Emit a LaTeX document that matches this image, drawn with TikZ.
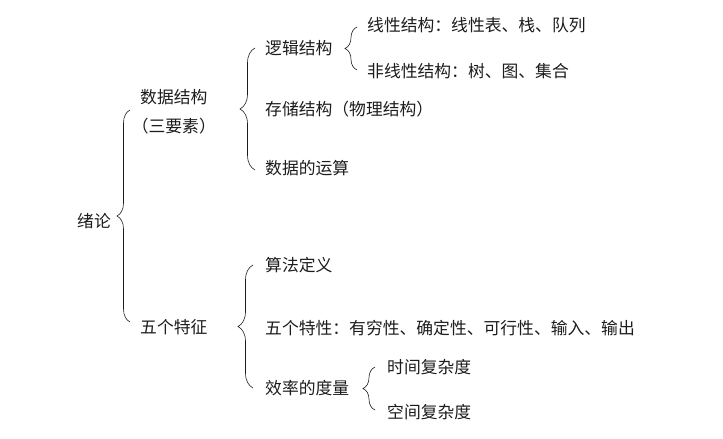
\documentclass[tikz,border=0pt]{standalone}
\usepackage{fontspec}
\newfontfamily\cjk{Noto Sans CJK SC}
\usetikzlibrary{decorations.pathreplacing}
\definecolor{InkGray}{HTML}{1C1C1C}

\tikzset{
  item/.style={anchor=west, inner sep=0pt, text=InkGray, font=\cjk\fontsize{16.8bp}{20bp}\selectfont},
  brc/.style={draw=InkGray, line width=0.6pt, decorate, decoration={brace, amplitude=#1}},
  brc/.default=15bp
}

\begin{document}
\begin{tikzpicture}[x=1bp, y=-1bp]
\useasboundingbox (0,0) rectangle (723,439);

% Root level
\node[item] (intro) at (77,221) {绪论};

% Second level
\node[item] (ds) at (140,97) {数据结构};
\node[item, anchor=center, yshift=-29bp] (dsnote) at (ds.center) {（三要素）};
\node[item] (feat) at (140,327) {五个特征};

% Data structure branch
\node[item] (logic) at (265,48) {逻辑结构};
\node[item] (store) at (265,109) {存储结构（物理结构）};
\node[item] (ops) at (265,168) {数据的运算};
\node[item] (lin) at (367,25) {线性结构：线性表、栈、队列};
\node[item] (nonlin) at (367,71) {非线性结构：树、图、集合};

% Algorithm branch
\node[item] (def) at (265,265) {算法定义};
\node[item] (five) at (265,328) {五个特性：有穷性、确定性、可行性、输入、输出};
\node[item] (eff) at (265,388) {效率的度量};
\node[item] (time) at (387,367) {时间复杂度};
\node[item] (space) at (387,412) {空间复杂度};

% Braces
\draw[brc=13bp] ([xshift=-10bp,yshift=5bp]feat.west) -- ([xshift=-10bp,yshift=-13bp]ds.west);
\draw[brc] ([xshift=-10bp,yshift=-2bp]ops.west) -- ([xshift=-10bp]logic.west);
\draw[brc=12bp] ([xshift=-10bp,yshift=1bp]nonlin.west) -- ([xshift=-10bp,yshift=-2bp]lin.west);
\draw[brc] ([xshift=-12bp]eff.west) -- ([xshift=-12bp]def.west);
\draw[brc=12bp] ([xshift=-12bp,yshift=2bp]space.west) -- ([xshift=-12bp]time.west);
\end{tikzpicture}
\end{document}
